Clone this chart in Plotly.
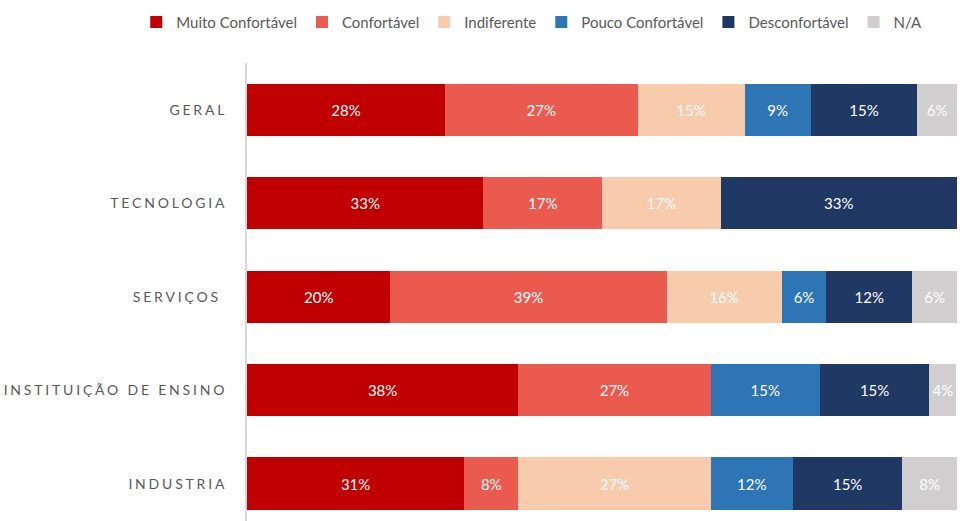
import plotly.graph_objects as go

# Categories (top to bottom)
categories = ["GERAL", "TECNOLOGIA", "SERVIÇOS ", "INSTITUIÇÃO DE ENSINO", "INDUSTRIA"]

# Share of answers per comfort level, in %
muito_confortavel = [27.9, 33.3, 20.2, 38.2, 30.6]
confortavel = [27.1, 16.7, 38.9, 27.1, 7.6]
indiferente = [15.1, 16.7, 16.2, None, 27.1]
pouco_confortavel = [9.3, None, 6.3, 15.4, 11.6]
desconfortavel = [15.0, 33.3, 12.1, 15.4, 15.4]
na = [5.6, None, 6.3, 3.8, 7.7]

series_names = ["Muito Confortável", "Confortável", "Indiferente",
                "Pouco Confortável", "Desconfortável", "N/A"]
series_values = [muito_confortavel, confortavel, indiferente,
                 pouco_confortavel, desconfortavel, na]
series_colors = ["#C00000", "#EA5A4F", "#F8CBAD", "#2E75B6", "#203864", "#D0CECE"]

font_family = "Lato, 'Open Sans', sans-serif"

fig = go.Figure()
for name, values, color in zip(series_names, series_values, series_colors):
    fig.add_trace(go.Bar(
        y=categories,
        x=values,
        name=name,
        orientation="h",
        marker=dict(color=color, line=dict(width=0)),
        texttemplate="%{x:.0f}%",
        textposition="inside",
        insidetextanchor="middle",
        textfont=dict(color="white", size=15, family=font_family),
        hoverinfo="skip",
    ))

fig.update_layout(
    barmode="stack",
    bargap=0.44,
    width=977,
    height=521,
    paper_bgcolor="white",
    plot_bgcolor="white",
    margin=dict(l=247, r=20, t=63, b=0, autoexpand=False),
    font=dict(family=font_family, color="#595959"),
    uniformtext=dict(minsize=14, mode="show"),
    legend=dict(
        orientation="h",
        x=-0.156, xanchor="left",
        y=1.125, yanchor="top",
        font=dict(size=15, color="#595959"),
        traceorder="normal",
        itemwidth=30,
    ),
    showlegend=True,
)

fig.update_xaxes(
    range=[0, 100],
    visible=False,
    showgrid=False,
    zeroline=False,
)
fig.update_yaxes(
    type="category",
    categoryorder="array",
    categoryarray=categories,
    range=[4.4, -0.5],
    showgrid=False,
    zeroline=False,
    showline=True,
    linecolor="#D9D9D9",
    linewidth=2,
    ticks="",
    ticklabelstandoff=15,
    tickfont=dict(size=14, color="#595959", family=font_family),
)

# drop the default body margin and space out the category letters
post = """
document.body.style.margin = '0';
var gd = document.getElementById('{plot_id}');
function spaceTicks() {
    gd.querySelectorAll('.ytick text').forEach(function (t) {
        t.style.letterSpacing = '2.8px';
    });
}
spaceTicks();
gd.on('plotly_afterplot', spaceTicks);
"""

fig.write_html("out.html", post_script=post, config={"displayModeBar": False})
